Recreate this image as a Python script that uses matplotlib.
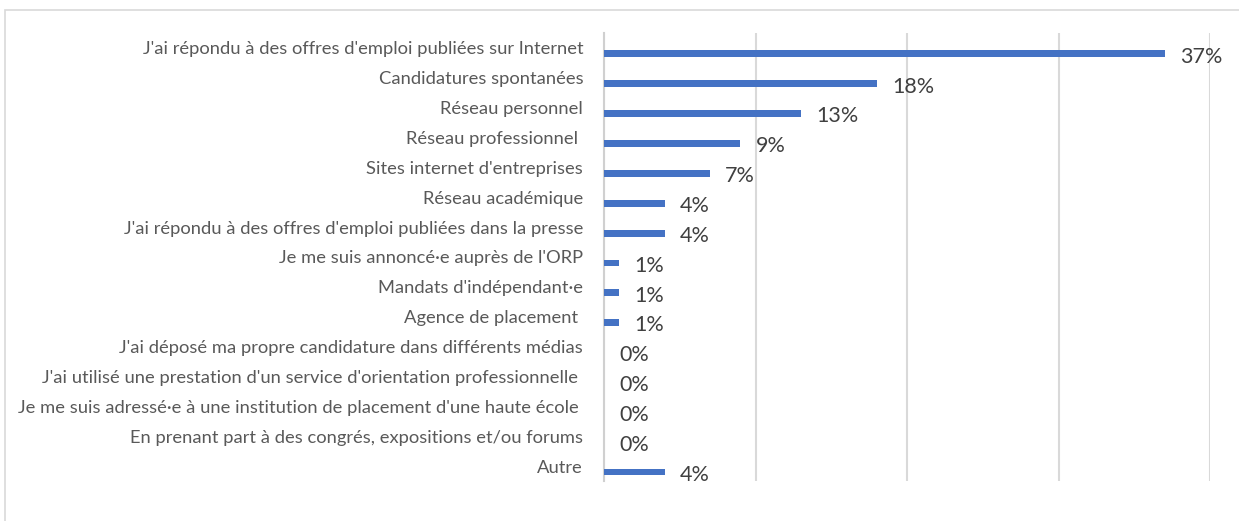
import matplotlib
matplotlib.use("Agg")
import matplotlib.pyplot as plt
import matplotlib.transforms as mtransforms
from matplotlib.patches import Rectangle

# Category labels (top to bottom) and shares in percent
categories = [
    "J'ai répondu à des offres d'emploi publiées sur Internet",
    "Candidatures spontanées",
    "Réseau personnel",
    "Réseau professionnel ",
    "Sites internet d'entreprises",
    "Réseau académique",
    "J'ai répondu à des offres d'emploi publiées dans la presse",
    "Je me suis annoncé·e auprès de l'ORP",
    "Mandats d'indépendant·e",
    "Agence de placement ",
    "J'ai déposé ma propre candidature dans différents médias",
    "J'ai utilisé une prestation d'un service d'orientation professionnelle ",
    "Je me suis adressé·e à une institution de placement d'une haute école ",
    "En prenant part à des congrés, expositions et/ou forums",
    "Autre",
]
values = [37, 18, 13, 9, 7, 4, 4, 1, 1, 1, 0, 0, 0, 0, 4]
gridTicks = [0, 10, 20, 30, 40]

plt.rcParams['font.family'] = ['Lato', 'DejaVu Sans']

fig = plt.figure(figsize=(12.39, 5.21), dpi=100)
ax = fig.add_axes([604 / 1239, 1 - 481 / 521, 606 / 1239, 448 / 521])

# light frame around the chart like the office export
fig.patches.append(Rectangle((5 / 1239, -0.1), 1.0, 1.1 - 10 / 521, transform=fig.transFigure,
                             fill=False, edgecolor="#D9D9D9", linewidth=1.2))

pos = list(range(len(categories)))
ax.barh(pos, values, height=0.23, color="#4472C4", zorder=3)

ax.set_xlim(0, 40)
ax.set_ylim(14.3, -0.7)
ax.set_xticks(gridTicks)
ax.xaxis.grid(True, color="#D9D9D9", linewidth=1.5, zorder=0)
ax.tick_params(axis="x", length=0, labelbottom=False)
ax.tick_params(axis="y", length=0, pad=15, labelsize=13.2, labelcolor="#595959")
ax.set_yticks(pos)
ax.set_yticklabels(categories)

# category labels sit a little above the bars
shift = mtransforms.ScaledTranslation(0, 6 / 100, fig.dpi_scale_trans)
for lbl in ax.get_yticklabels():
    lbl.set_transform(lbl.get_transform() + shift)

for side in ["top", "right", "bottom"]:
    ax.spines[side].set_visible(False)
ax.spines["left"].set_color("#D0D0D0")
ax.spines["left"].set_linewidth(1.5)

# data labels
for i, v in enumerate(values):
    ax.annotate(f"{v}%", (v, i), xytext=(11, -2), textcoords="offset points",
                ha="left", va="center", fontsize=15.5, color="#404040")

fig.savefig("out.png", dpi=100)
